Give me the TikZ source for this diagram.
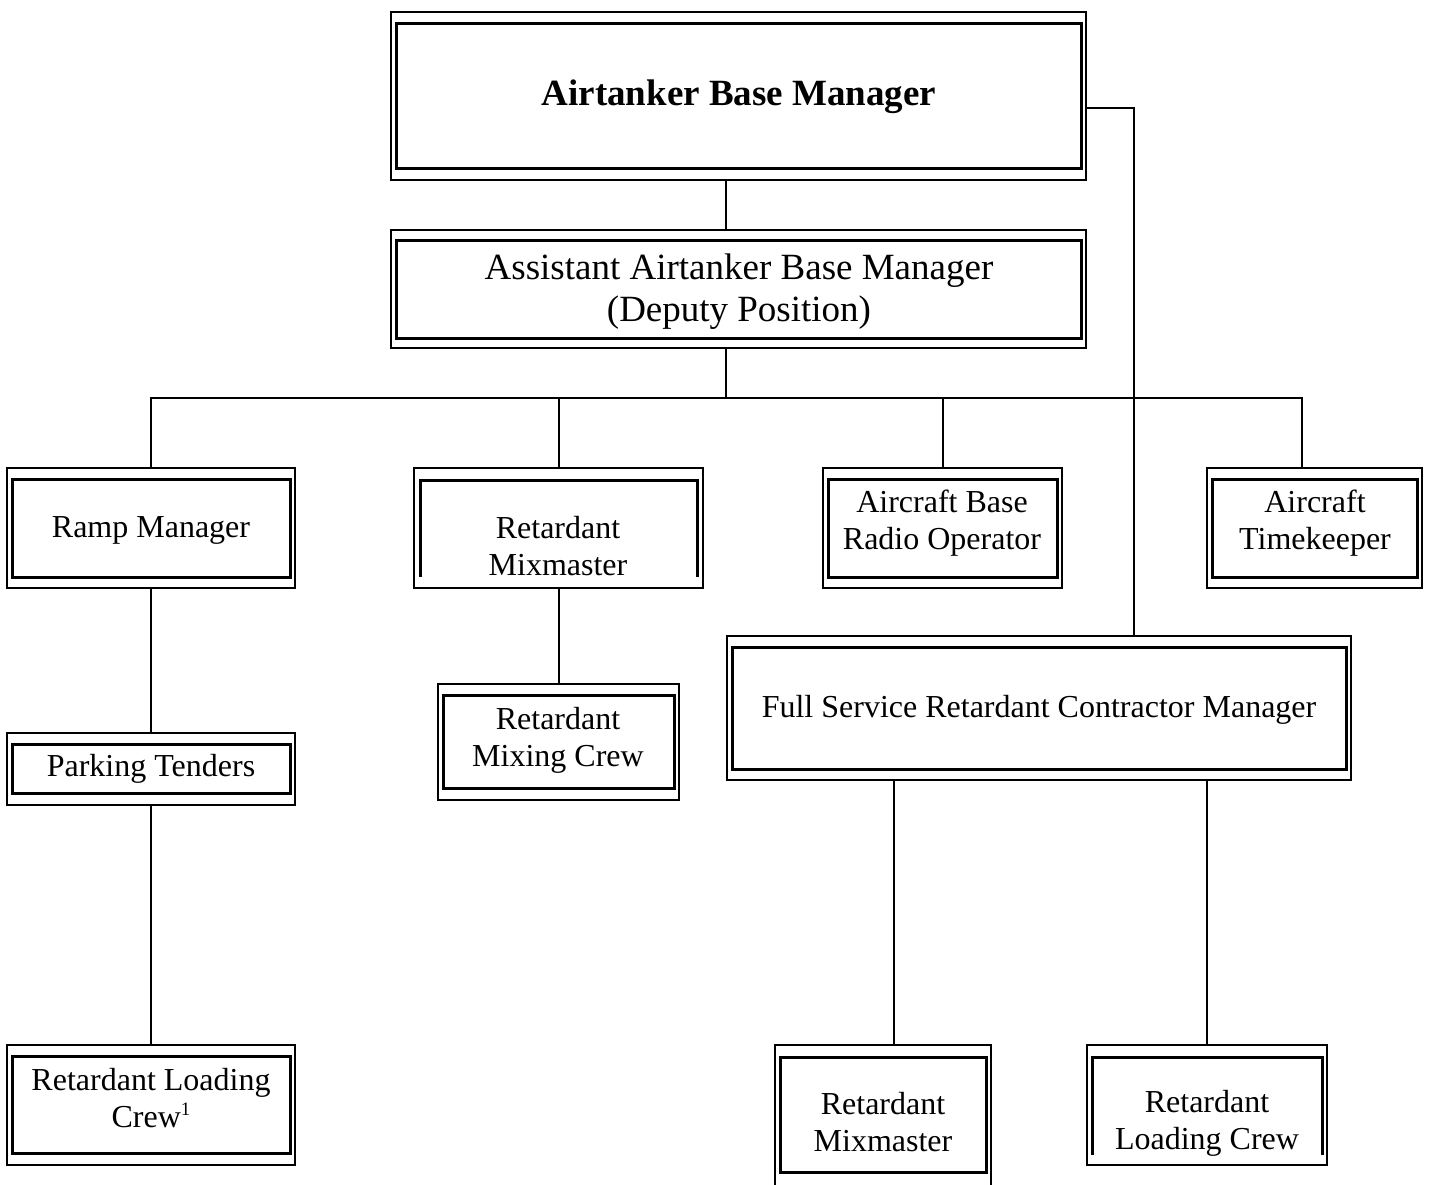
\documentclass[tikz,border=0pt]{standalone}
\usepackage{fontspec}
\setmainfont{Liberation Serif}
\begin{document}
\begin{tikzpicture}[x=1pt,y=-1pt,
  obox/.style={draw, line width=1.5pt, rectangle, inner sep=0pt, outer sep=0pt},
  iline/.style={line width=3pt},
  conn/.style={line width=2pt},
  txt/.style={align=center, inner sep=0pt, font=\fontsize{32}{37}\selectfont},
  big/.style={align=center, inner sep=0pt, font=\fontsize{37}{42}\selectfont},
  ttl/.style={align=center, inner sep=0pt, font=\fontsize{37}{44}\selectfont\bfseries}]
\useasboundingbox (0,0) rectangle (1429,1184);
\clip (0,0) rectangle (1429,1184);

% ---- outer frames
\node[obox, minimum width=695pt, minimum height=168pt] (b1) at (738.5,96) {};
\node[obox, minimum width=695pt, minimum height=118pt] (b2) at (738.5,289) {};
\node[obox, minimum width=288pt, minimum height=120pt] (ramp) at (151,528) {};
\node[obox, minimum width=289pt, minimum height=120pt] (mixm) at (558.5,528) {};
\node[obox, minimum width=239pt, minimum height=120pt] (radio) at (942.5,528) {};
\node[obox, minimum width=215pt, minimum height=120pt] (time) at (1314.5,528) {};
\node[obox, minimum width=624pt, minimum height=144pt] (fulls) at (1039,708) {};
\node[obox, minimum width=288pt, minimum height=72pt] (park) at (151,769) {};
\node[obox, minimum width=241pt, minimum height=116pt] (mixc) at (558.5,742) {};
\node[obox, minimum width=288pt, minimum height=120pt] (loadl) at (151,1105) {};
\node[obox, minimum width=216pt, minimum height=150pt] (mixb) at (883,1120) {};
\node[obox, minimum width=240pt, minimum height=120pt] (loadb) at (1207,1105) {};

% ---- inner frames
\draw[iline] ([shift={(5,11)}]b1.north west) rectangle ([shift={(-5,-12)}]b1.south east);
\draw[iline] ([shift={(5,10)}]b2.north west) rectangle ([shift={(-5,-10)}]b2.south east);
\draw[iline] ([shift={(5,11)}]ramp.north west) rectangle ([shift={(-5,-11)}]ramp.south east);
\draw[iline] ([shift={(6,109)}]mixm.north west) -- ([shift={(6,12)}]mixm.north west)
  -- ([shift={(-6,12)}]mixm.north east) -- ([shift={(-6,109)}]mixm.north east);
\draw[iline] ([shift={(5,11)}]radio.north west) rectangle ([shift={(-5,-11)}]radio.south east);
\draw[iline] ([shift={(5,11)}]time.north west) rectangle ([shift={(-5,-11)}]time.south east);
\draw[iline] ([shift={(5,11)}]fulls.north west) rectangle ([shift={(-5,-11)}]fulls.south east);
\draw[iline] ([shift={(5,11)}]park.north west) rectangle ([shift={(-5,-12)}]park.south east);
\draw[iline] ([shift={(5,11)}]mixc.north west) rectangle ([shift={(-5,-12)}]mixc.south east);
\draw[iline] ([shift={(5,11)}]loadl.north west) rectangle ([shift={(-5,-12)}]loadl.south east);
\draw[iline] ([shift={(5,12)}]mixb.north west) rectangle ([shift={(-5,127)}]mixb.north east);
\draw[iline] ([shift={(5,110)}]loadb.north west) -- ([shift={(5,12)}]loadb.north west)
  -- ([shift={(-5,12)}]loadb.north east) -- ([shift={(-5,110)}]loadb.north east);

% ---- texts
\node[ttl] (b1t) at (739,97) {Airtanker Base Manager};
\node[big] (b2t) at (739,292) {Assistant Airtanker Base Manager\\(Deputy Position)};
\node[txt] (rampt) at (151,530) {Ramp Manager};
\node[txt] (mixmt) at (558,546) {Retardant\\Mixmaster};
\node[txt] (radiot) at (942,523) {Aircraft Base\\Radio Operator};
\node[txt] (timet) at (1315,523) {Aircraft\\Timekeeper};
\node[txt] (fullst) at (1039,710) {Full Service Retardant Contractor Manager};
\node[txt] (parkt) at (151,769) {Parking Tenders};
\node[txt] (mixct) at (558,740) {Retardant\\Mixing Crew};
\node[txt] (loadlt) at (151,1098) {Retardant Loading\\Crew\raisebox{12pt}{\fontsize{19}{19}\selectfont 1}};
\node[txt] (mixbt) at (883,1122) {Retardant\\Mixmaster};
\begin{scope}
  \clip (1087,1045) rectangle (1327,1155);
  \node[txt] (loadbt) at (1207,1123) {Retardant\\Loading Crew};
\end{scope}

% ---- connectors
\coordinate (bus) at (726,398);
\coordinate (tx) at (1302,398);
\coordinate (rx) at (1134,108);
\coordinate (fa) at (894,780);
\draw[conn] (b1.south -| bus) -- (b2.north -| bus);
\draw[conn] (b2.south -| bus) -- (bus);
\draw[conn] (ramp.north) |- (tx) -- (tx |- time.north);
\draw[conn] (mixm.north) -- (mixm.north |- bus);
\draw[conn] (radio.north) -- (radio.north |- bus);
\draw[conn] (b1.east |- rx) -- (rx) -- (rx |- fulls.north);
\draw[conn] (ramp.south) -- (park.north);
\draw[conn] (park.south) -- (loadl.north);
\draw[conn] (mixm.south) -- (mixc.north);
\draw[conn] (fulls.south -| fa) -- (mixb.north -| fa);
\draw[conn] (fulls.south -| loadb.north) -- (loadb.north);
\end{tikzpicture}
\end{document}
